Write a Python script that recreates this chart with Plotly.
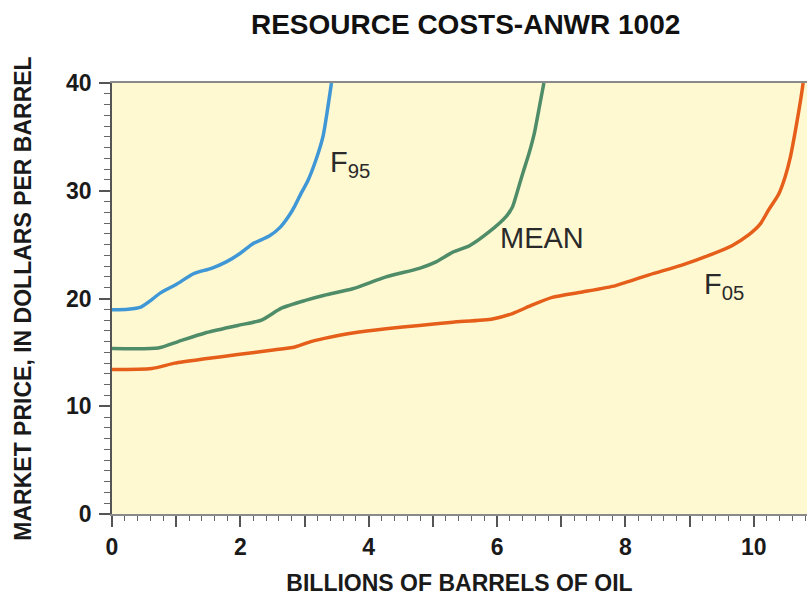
import plotly.graph_objects as go

# ── Curve data (billions of barrels, $/barrel)
f95_x = [0, 0.25, 0.45, 0.6, 0.75, 1.0, 1.27, 1.55, 1.78, 2.0, 2.2, 2.45, 2.62,
         2.75, 2.85, 2.95, 3.05, 3.18, 3.29, 3.36, 3.42]
f95_y = [18.95, 19.0, 19.2, 19.8, 20.5, 21.3, 22.3, 22.8, 23.4, 24.2, 25.1, 25.8,
         26.6, 27.6, 28.6, 29.8, 30.9, 32.9, 35.1, 37.6, 40.0]

mean_x = [0, 0.72, 1.03, 1.45, 1.96, 2.33, 2.64, 3.0, 3.31, 3.75, 4.27, 4.79,
          5.05, 5.31, 5.57, 5.88, 6.14, 6.24, 6.32, 6.40, 6.50, 6.58, 6.66, 6.73]
mean_y = [15.35, 15.4, 16.0, 16.8, 17.5, 18.0, 19.1, 19.8, 20.3, 20.9, 22.0, 22.8,
          23.4, 24.3, 24.9, 26.2, 27.6, 28.5, 30.0, 31.6, 33.5, 35.3, 37.8, 40.0]

f05_x = [0, 0.62, 0.98, 1.45, 1.96, 2.48, 2.85, 3.1, 3.31, 3.75, 4.27, 4.79, 5.31,
         5.93, 6.24, 6.55, 6.86, 7.33, 7.85, 8.37, 8.88, 9.30, 9.66, 9.92, 10.1,
         10.23, 10.39, 10.49, 10.57, 10.65, 10.73, 10.77]
f05_y = [13.4, 13.5, 14.0, 14.4, 14.8, 15.2, 15.5, 16.0, 16.3, 16.8, 17.2, 17.5,
         17.8, 18.1, 18.6, 19.4, 20.1, 20.6, 21.2, 22.2, 23.1, 24.0, 24.9, 25.9,
         26.9, 28.2, 29.7, 31.3, 33.1, 35.6, 38.4, 40.0]

x_tickvals = [0, 1, 2, 3, 4, 5, 6, 7, 8, 9, 10]
x_ticktext = ["0", "", "2", "", "4", "", "6", "", "8", "", "10"]
y_tickvals = [0, 10, 20, 30, 40]

BLUE = "#3f97d6"
GREEN = "#4f8c68"
ORANGE = "#e55f1a"
BG = "#fff9d2"

fig = go.Figure()

for xs, ys, color, name in [
    (f95_x, f95_y, BLUE, "F95"),
    (mean_x, mean_y, GREEN, "MEAN"),
    (f05_x, f05_y, ORANGE, "F05"),
]:
    fig.add_trace(go.Scatter(
        x=xs, y=ys, mode="lines", name=name, showlegend=False,
        line=dict(color=color, width=3.5, shape="spline", smoothing=0.6),
    ))

# ── Curve labels
label_font = dict(family="Liberation Sans Narrow, Liberation Sans, Arial", size=29, color="#2a2a2a")
fig.add_annotation(x=3.36, y=34.3, text="F<sub>95</sub>", showarrow=False,
                   xanchor="left", yanchor="top", font=label_font)
fig.add_annotation(x=6.7, y=25.6, text="MEAN", showarrow=False,
                   xanchor="center", yanchor="middle", font=label_font)
fig.add_annotation(x=9.2, y=23.0, text="F<sub>05</sub>", showarrow=False,
                   xanchor="left", yanchor="top", font=label_font)

axis_font = dict(family="Liberation Sans, Arial", size=23, color="#1a1a1a", weight="bold")

fig.update_layout(
    width=807, height=598,
    margin=dict(l=112, r=0, t=83, b=84),
    paper_bgcolor="white",
    plot_bgcolor=BG,
    title=dict(
        text="RESOURCE COSTS-ANWR 1002",
        font=dict(family="Liberation Sans, Arial", size=28, color="#111111", weight="bold"),
        x=0.577, xref="container", xanchor="center",
        y=0.96, yref="container", yanchor="middle",
    ),
    xaxis=dict(
        range=[0, 10.83], showgrid=False, zeroline=False, automargin=False,
        showline=True, linecolor="#8a8a8a", linewidth=2, mirror=True,
        tickmode="array", tickvals=x_tickvals, ticktext=x_ticktext,
        ticks="outside", ticklen=11, tickwidth=1.5, tickcolor="#555555",
        tickfont=axis_font,
        minor=dict(dtick=0.2, ticks="outside", ticklen=5, tickwidth=1, tickcolor="#666666"),
        title=dict(text="BILLIONS OF BARRELS OF OIL", font=axis_font, standoff=16),
    ),
    yaxis=dict(
        range=[0, 40], showgrid=False, zeroline=False, automargin=False,
        showline=True, linecolor="#555555", linewidth=1.5,
        tickmode="array", tickvals=y_tickvals,
        ticks="outside", ticklen=11, tickwidth=1.5, tickcolor="#555555",
        tickfont=axis_font, ticklabelstandoff=3,
        minor=dict(dtick=1, ticks="outside", ticklen=6, tickwidth=1, tickcolor="#666666"),
        title=dict(text="MARKET PRICE, IN DOLLARS PER BARREL", font=axis_font, standoff=28),
    ),
)

# drop the default page margin / scrollbars so the figure fills the window
page_fix = ("document.body.style.margin='0';"
            "document.body.style.overflow='hidden';"
            "document.documentElement.style.overflow='hidden';")
fig.write_html("out.html", post_script=page_fix, config={"displayModeBar": False})
